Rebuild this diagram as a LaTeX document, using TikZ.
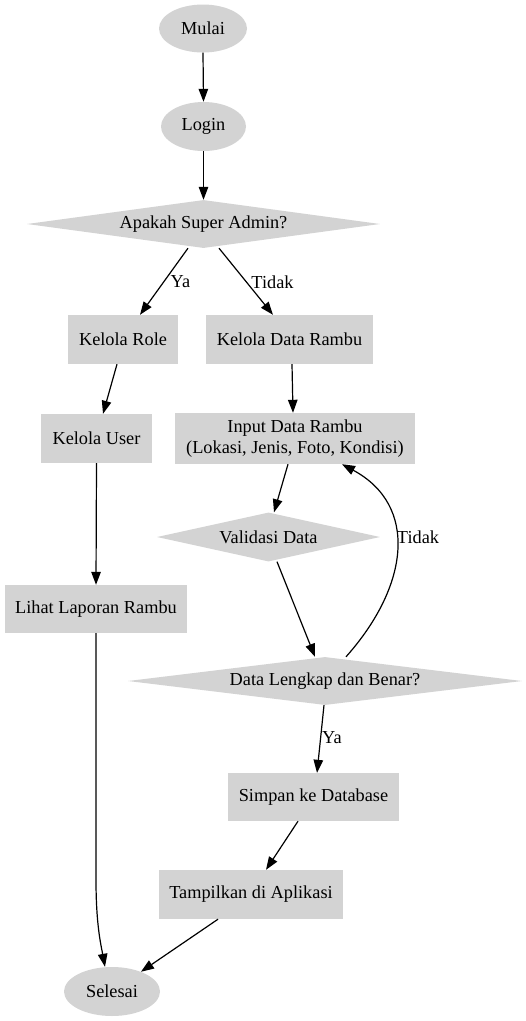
\documentclass[tikz,border=0pt]{standalone}
\usepackage{fontspec}
\setmainfont{Liberation Serif}
\usetikzlibrary{shapes.geometric,arrows.meta}
\definecolor{nodegray}{HTML}{D3D3D3}
\tikzset{
  base/.style={fill=nodegray, draw=none, font=\fontsize{18.3}{20.5}\selectfont, align=center, inner sep=0pt},
  ell/.style={base, ellipse},
  boxnode/.style={base, rectangle},
  dia/.style={base, diamond},
  arr/.style={-{Triangle[length=13pt,width=9.5pt]}, line width=1.2pt, black},
  lbl/.style={font=\fontsize{18.3}{20.5}\selectfont, inner sep=0pt}
}
\begin{document}
\begin{tikzpicture}[x=1pt,y=-1pt]
\useasboundingbox (0,0) rectangle (526,1021);

\node[ell, minimum width=88pt, minimum height=48pt] (mulai) at (203,28.5) {Mulai};
\node[ell, minimum width=85pt, minimum height=49pt] (login) at (203.5,126.5) {Login};
\node[dia, aspect=7.35, minimum width=353pt, minimum height=48pt] (apakah) at (203.5,224) {Apakah Super Admin?};
\node[boxnode, minimum width=110pt, minimum height=49pt] (role) at (123,339.5) {Kelola Role};
\node[boxnode, minimum width=167pt, minimum height=49pt] (kdr) at (289.5,339.5) {Kelola Data Rambu};
\node[boxnode, minimum width=111pt, minimum height=49pt] (user) at (96.5,438.5) {Kelola User};
\node[boxnode, minimum width=240pt, minimum height=51pt] (input) at (295,438.5) {Input Data Rambu\\(Lokasi, Jenis, Foto, Kondisi)};
\node[dia, aspect=4.55, minimum width=223pt, minimum height=49pt] (validasi) at (268.5,537) {Validasi Data};
\node[boxnode, minimum width=182pt, minimum height=48pt] (lihat) at (96,609) {Lihat Laporan Rambu};
\node[dia, aspect=8.2, minimum width=394pt, minimum height=48pt] (dl) at (325,681) {Data Lengkap dan Benar?};
\node[boxnode, minimum width=171pt, minimum height=48pt] (simpan) at (313.5,797) {Simpan ke Database};
\node[boxnode, minimum width=184pt, minimum height=49pt] (tampil) at (251,894.5) {Tampilkan di Aplikasi};
\node[ell, minimum width=96pt, minimum height=49pt] (selesai) at (112,991.5) {Selesai};

\draw[arr] (mulai.south) -- (login.north);
\draw[arr] (login.south) -- (apakah.north);
\draw[arr] ([xshift=-15.5pt]apakah.south) -- ([xshift=17pt]role.north)
  node[lbl] at (180.5,282) {Ya};
\draw[arr] ([xshift=15.5pt]apakah.south) -- ([xshift=-16.5pt]kdr.north)
  node[lbl] at (272.5,282) {Tidak};
\draw[arr] ([xshift=-6pt]role.south) -- ([xshift=6.5pt]user.north);
\draw[arr] ([xshift=2.5pt]kdr.south) -- ([xshift=-2pt]input.north);
\draw[arr] (user.south) -- (lihat.north);
\draw[arr] ([xshift=-7pt]input.south) -- ([xshift=5.5pt]validasi.north);
\draw[arr] ([xshift=8.5pt]validasi.south) -- ([xshift=-10pt]dl.north);
\draw[arr] ([xshift=21pt]dl.north) .. controls (410,585) and (418,505) .. ([xshift=47pt]input.south)
  node[lbl] at (418,537) {Tidak};
\draw[arr] ([xshift=-1pt]dl.south) -- ([xshift=3.5pt]simpan.north)
  node[lbl] at (332,738) {Ya};
\draw[arr] ([xshift=-15.5pt]simpan.south) -- ([xshift=15pt]tampil.north);
\draw[arr] ([xshift=-33pt]tampil.south) -- (selesai);
\draw[arr] (lihat.south) -- (lihat.south |- 0,880) .. controls (96,925) and (101,945) .. ([xshift=-7pt]selesai.north);
\end{tikzpicture}
\end{document}
